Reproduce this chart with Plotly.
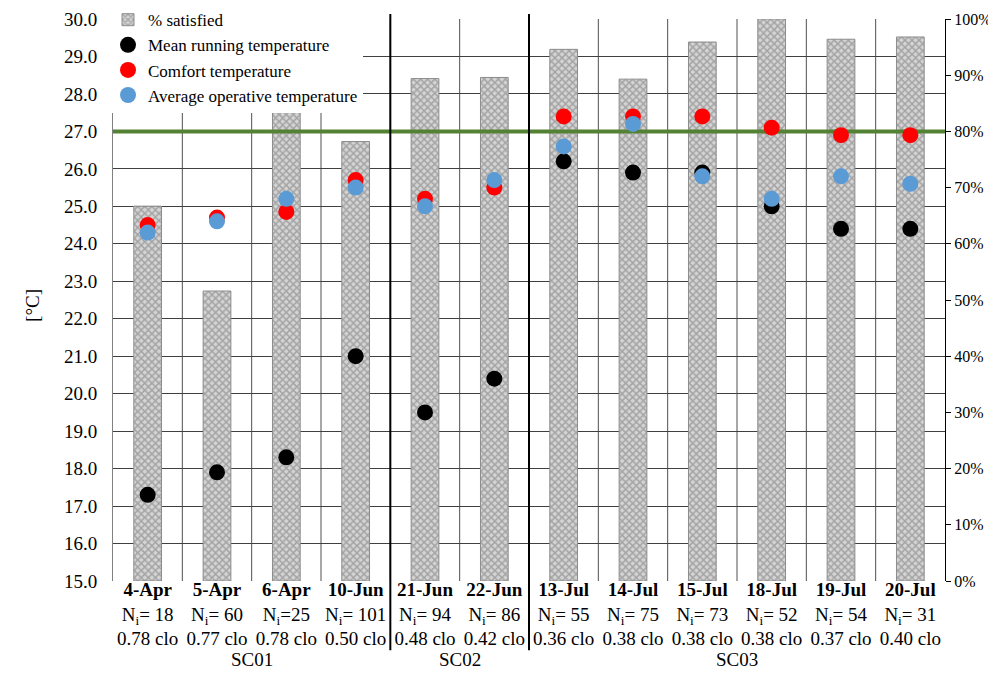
import plotly.graph_objects as go

dates = ["4-Apr", "5-Apr", "6-Apr", "10-Jun", "21-Jun", "22-Jun",
         "13-Jul", "14-Jul", "15-Jul", "18-Jul", "19-Jul", "20-Jul"]
n_i = ["= 18", "= 60", "=25", "= 101", "= 94", "= 86",
       "= 55", "= 75", "= 73", "= 52", "= 54", "= 31"]
clo = ["0.78", "0.77", "0.78", "0.50", "0.48", "0.42",
       "0.36", "0.38", "0.38", "0.38", "0.37", "0.40"]
pct_satisfied = [0.667, 0.516, 0.840, 0.782, 0.894, 0.896,
                 0.946, 0.893, 0.959, 1.000, 0.964, 0.968]
mean_running = [17.3, 17.9, 18.3, 21.0, 19.5, 20.4,
                26.2, 25.9, 25.9, 25.0, 24.4, 24.4]
comfort = [24.5, 24.7, 24.85, 25.7, 25.2, 25.5,
           27.4, 27.4, 27.4, 27.1, 26.9, 26.9]
avg_operative = [24.3, 24.6, 25.2, 25.5, 25.0, 25.7,
                 26.6, 27.2, 25.8, 25.2, 25.8, 25.6]
groups = [("SC01", 0, 3), ("SC02", 4, 5), ("SC03", 6, 11)]
threshold = 27.0

FONT = "Liberation Serif"
FS = 19
n = len(dates)
xs = list(range(n))
ticktext = [f"<b>{d}</b><br>N<sub>i</sub>{k}<br>{c} clo" for d, k, c in zip(dates, n_i, clo)]

fig = go.Figure()
# bars on the base (percent, right-side) axis so that the temperature markers sit above them
fig.add_trace(go.Bar(
    x=xs, y=pct_satisfied, yaxis="y", name="% satisfied", width=0.4,
    marker=dict(color="#b0b0b0", line=dict(color="#8c8c8c", width=1),
                pattern=dict(shape="x", fgcolor="#747474", bgcolor="#d4d4d4", size=5, solidity=0.5)),
))
fig.add_trace(go.Scatter(
    x=[-0.5, n - 0.5], y=[threshold, threshold], yaxis="y2", mode="lines", showlegend=False,
    line=dict(color="#548235", width=4), hoverinfo="skip",
))
for name, vals, col in [("Mean running temperature", mean_running, "#000000"),
                        ("Comfort temperature", comfort, "#ff0000"),
                        ("Average operative temperature", avg_operative, "#5b9bd5")]:
    fig.add_trace(go.Scatter(x=xs, y=vals, yaxis="y2", mode="markers", name=name,
                             marker=dict(color=col, size=16, line=dict(width=0))))

shapes = []
for i in range(1, n):
    shapes.append(dict(type="line", xref="x", yref="paper", x0=i - 0.5, x1=i - 0.5, y0=0, y1=1,
                       line=dict(color="#505050", width=1), layer="below"))
for name, a, b in groups[1:]:
    shapes.append(dict(type="line", xref="x", yref="paper", x0=a - 0.5, x1=a - 0.5,
                       y0=-0.123, y1=1.009, line=dict(color="#000000", width=2), layer="above"))
annotations = [dict(x=(a + b) / 2, y=-0.14, xref="x", yref="paper", text=name, showarrow=False,
                    font=dict(family=FONT, size=FS, color="#000"), yanchor="middle", xanchor="center")
               for name, a, b in groups]
annotations.append(dict(x=-0.097, y=0.49, xref="paper", yref="paper", text="[°C]", textangle=-90,
                        xanchor="center", yanchor="middle",
                        showarrow=False, font=dict(family=FONT, size=FS, color="#000")))

# the page body has an 8px default margin; size the figure so the plot lands where the reference has it
fig.update_layout(
    width=988, height=663, margin=dict(l=105, r=51, t=11, b=90, autoexpand=False),
    paper_bgcolor="white", plot_bgcolor="white",
    font=dict(family=FONT, size=FS, color="#000"),
    showlegend=True,
    legend=dict(x=-0.006, y=1.03, xanchor="left", yanchor="top", bgcolor="white",
                font=dict(family=FONT, size=17), tracegroupgap=0, itemwidth=30,
                borderwidth=0),
    xaxis=dict(range=[-0.5, n - 0.5], tickvals=xs, ticktext=ticktext, showgrid=False,
               zeroline=False, showline=False, ticks="", ticklabelstandoff=-5,
               tickfont=dict(family=FONT, size=FS)),
    yaxis2=dict(range=[15, 30], dtick=1, tickformat=".1f", overlaying="y", side="left",
                showgrid=True, gridcolor="#404040",
                gridwidth=1, zeroline=False, showline=True, linecolor="#808080", ticks="",
                ticklabelstandoff=11, tickfont=dict(family=FONT, size=FS)),
    yaxis=dict(range=[0, 1], dtick=0.1, tickformat=".0%", side="right",
               showgrid=False, zeroline=False, showline=True, linecolor="#000", ticks="outside",
               ticklen=5, tickcolor="#000", tickfont=dict(family=FONT, size=16)),
    shapes=shapes, annotations=annotations, bargap=0.6,
)
fig.write_html("out.html")
